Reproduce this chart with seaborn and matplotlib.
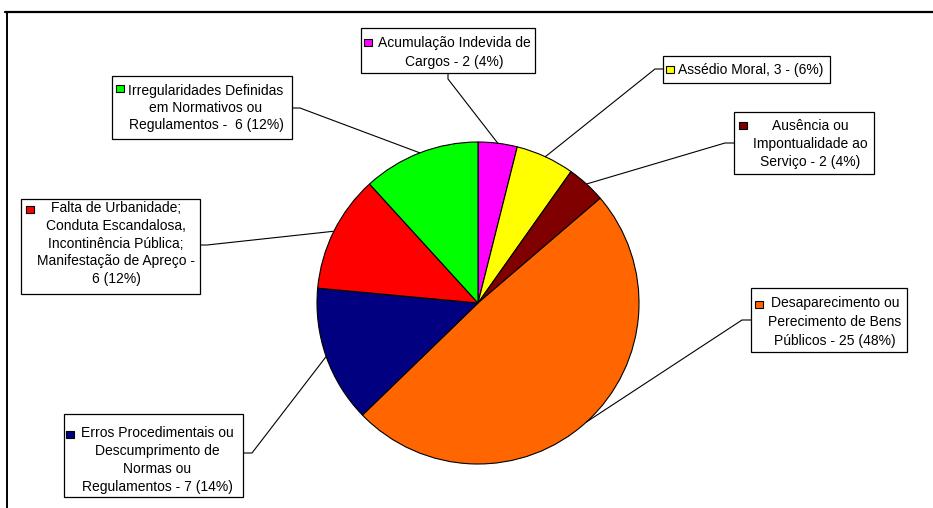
import matplotlib
matplotlib.use("Agg")
import numpy as np
import matplotlib.pyplot as plt
import seaborn as sns
from matplotlib.patches import Rectangle
from matplotlib.lines import Line2D

# ---------------- data ----------------
categories = [
    "Acumulação Indevida de Cargos",
    "Assédio Moral",
    "Ausência ou Impontualidade ao Serviço",
    "Desaparecimento ou Perecimento de Bens Públicos",
    "Erros Procedimentais ou Descumprimento de Normas ou Regulamentos",
    "Falta de Urbanidade; Conduta Escandalosa, Incontinência Pública; Manifestação de Apreço",
    "Irregularidades Definidas em Normativos ou Regulamentos",
]
counts = [2, 3, 2, 25, 7, 6, 6]
percents = [4, 6, 4, 48, 14, 12, 12]
label_texts = [
    "Acumulação Indevida de\nCargos - 2 (4%)",
    "Assédio Moral, 3 - (6%)",
    "Ausência ou\nImpontualidade ao\nServiço - 2 (4%)",
    "Desaparecimento ou\nPerecimento de Bens\nPúblicos - 25 (48%)",
    "Erros Procedimentais ou\nDescumprimento de\nNormas ou\nRegulamentos - 7 (14%)",
    "Falta de Urbanidade;\nConduta Escandalosa,\nIncontinência Pública;\nManifestação de Apreço -\n6 (12%)",
    "Irregularidades Definidas\nem Normativos ou\nRegulamentos -  6 (12%)",
]
colors = ["#FF00FF", "#FFFF00", "#800000", "#FF6600", "#000080", "#FF0000", "#00FF00"]

# ---------------- layout (pixel coordinates, y from top) ----------------
W, H = 933, 508
pie_center = (478, 303)
pie_radius = 161
boxes = [  # x0, y0, x1, y1
    (361, 28, 535, 73),
    (663, 56, 830, 83),
    (734, 112, 874, 174),
    (751, 288, 907, 352),
    (64, 414, 243, 497),
    (21, 199, 200, 294),
    (112, 76, 292, 139),
]
text_x = [454, 751, 810, 835, 157, 116, 206]
first_line_y = [43, 69.5, 125.5, 303, 432.5, 208, 90]
line_step = [18.5, 18, 18, 18.5, 18, 17.5, 17]
marker_centers = [
    (368, 42), (670, 69), (743, 125), (759, 304), (70, 434), (30, 209), (120, 88),
]
leader_knees = [  # box point, knee point
    ((448, 73), (448, 79)),
    ((663, 69), (655, 69)),
    ((734, 143), (725, 143)),
    ((751, 320), (742, 320)),
    ((243, 453), (252, 453)),
    ((200, 245), (207, 245)),
    ((292, 108), (300, 108)),
]


def P(px, py):
    return px, H - py


sns.set_theme(style="white")
plt.rcParams["font.family"] = ["Liberation Sans", "DejaVu Sans"]

fig = plt.figure(figsize=(W / 100, H / 100), dpi=100)
ax = fig.add_axes([0, 0, 1, 1])

wedges, _ = ax.pie(
    counts,
    colors=colors,
    startangle=90,
    counterclock=False,
    center=P(*pie_center),
    radius=pie_radius,
    wedgeprops=dict(edgecolor="black", linewidth=0.8),
)

ax.set_xlim(0, W)
ax.set_ylim(0, H)
ax.set_aspect("equal")
ax.axis("off")

cx, cy = P(*pie_center)
for i, w in enumerate(wedges):
    mid = np.deg2rad((w.theta1 + w.theta2) / 2)
    ex = cx + pie_radius * np.cos(mid)
    ey = cy + pie_radius * np.sin(mid)
    (bx, by), (kx, ky) = leader_knees[i]
    xs = [P(bx, by)[0], P(kx, ky)[0], ex]
    ys = [P(bx, by)[1], P(kx, ky)[1], ey]
    ax.plot(xs, ys, color="black", lw=0.8, zorder=3)

    x0, y0, x1, y1 = boxes[i]
    ax.add_patch(Rectangle(P(x0, y1), x1 - x0, y1 - y0, facecolor="white",
                           edgecolor="black", lw=0.9, zorder=4))
    for k, line in enumerate(label_texts[i].split("\n")):
        tx, ty = P(text_x[i], first_line_y[i] + k * line_step[i] + 4.5)
        ax.text(tx, ty, line, ha="center", va="baseline", fontsize=10,
                color="black", zorder=5)
    mx, my = P(*marker_centers[i])
    ax.add_patch(Rectangle((mx - 4, my - 3.5), 8, 7, facecolor=colors[i],
                           edgecolor="black", lw=0.8, zorder=6))

# outer frame (partial, as in reference)
fig.add_artist(Line2D([5 / W, 1], [1 - 11.5 / H, 1 - 11.5 / H], color="black", lw=1.6))
fig.add_artist(Line2D([6.5 / W, 6.5 / W], [0, 1 - 11.5 / H], color="black", lw=1.4))

fig.savefig("out.png", dpi=100, facecolor="white")
